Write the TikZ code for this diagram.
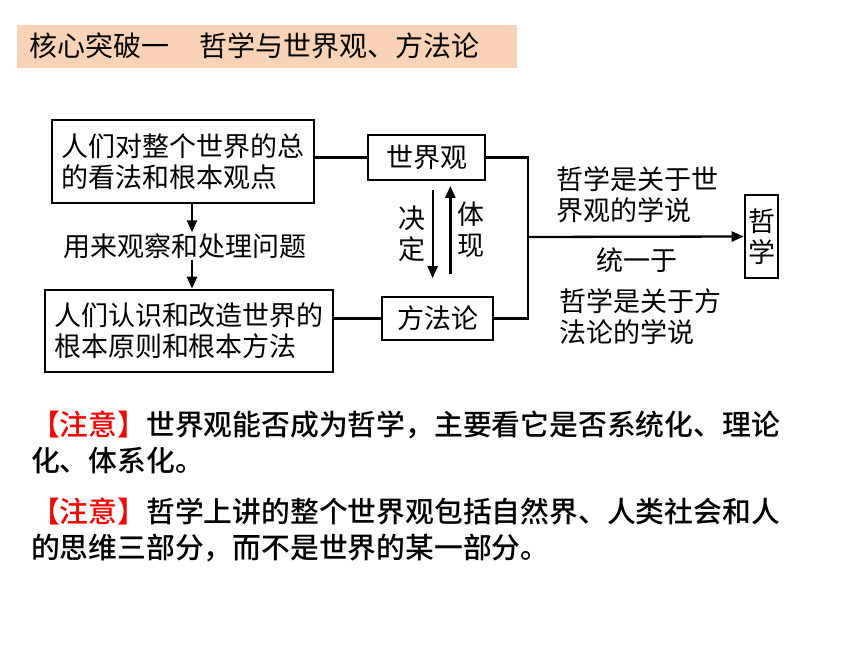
\documentclass[tikz,border=0pt]{standalone}
\usepackage{fontspec}
\setmainfont{Noto Sans CJK SC}
\newfontfamily\notefont{Noto Sans CJK SC Medium}
\usetikzlibrary{arrows.meta,positioning}
\definecolor{peach}{RGB}{250,210,181}
\definecolor{notered}{RGB}{255,0,0}

\begin{document}
\begin{tikzpicture}[x=1pt,y=-1pt,>={Triangle[length=12pt,width=10pt]},
  line width=2.3pt,
  txt/.style={font=\fontsize{27}{31}\selectfont,inner sep=0pt,align=left},
  box/.style={draw,line width=2.6pt,txt,align=left},
  note/.style={font=\fontsize{28.8}{36}\selectfont\notefont,inner sep=0pt,align=left,anchor=west}]

 \useasboundingbox (0,0) rectangle (860,645);

 % title bar
 \fill[peach] (17,25) rectangle (517,68);
 \node[txt,font=\fontsize{28}{32}\selectfont,anchor=west] (title) at (28,46) {核心突破一\hspace{30pt}哲学与世界观、方法论};

 \node[box,minimum width=262,minimum height=83] (view) at (183,161.5) {人们对整个世界的总\\的看法和根本观点};
 \node[txt] (use) at (185,246) {用来观察和处理问题};
 \node[box,minimum width=288,minimum height=82] (rule) at (189,331) {人们认识和改造世界的\\根本原则和根本方法};
 \node[box,minimum width=117,minimum height=45] (wv) at (426.5,157.5) {世界观};
 \node[box,minimum width=111,minimum height=43] (meth) at (437.5,318.5) {方法论};
 \node[txt,minimum height=86] (decide) at (412,234) {决\\定};
 \node[txt,minimum height=86] (show) at (471,230) {体\\现};
 \node[box,align=center,minimum width=33,minimum height=83] (phil) at (761.5,236.5) {哲\\学};
 \coordinate (join) at (528,237);

 \node[txt] (lbl1) at (637,195) {哲学是关于世\\界观的学说};
 \node[txt] (lbl2) at (637,260) {统一于};
 \node[txt] (lbl3) at (640,317) {哲学是关于方\\法论的学说};

 \draw[->] ([xshift=9pt]view.south) -- ([xshift=7pt]use.north);
 \draw[->] ([xshift=7pt]use.south) -- ([xshift=3pt]rule.north);
 \draw (view.east |- wv.west) -- (wv.west);
 \draw (rule.east |- meth.west) -- (meth.west);
 \draw[->] ([xshift=6pt]decide.north east) -- ([xshift=6pt]decide.south east);
 \draw[->] ([xshift=-6pt]show.south west) -- ([xshift=-6pt]show.north west);
 \draw (wv.east) -| (join) |- (meth.east);
 \draw[->] (join) -- (phil.west);

 \node[note] (note1) at (30,442) {\textcolor{notered}{【注意】}世界观能否成为哲学，主要看它是否系统化、理论\\化、体系化。};
 \node[note] (note2) at (30,530) {\textcolor{notered}{【注意】}哲学上讲的整个世界观包括自然界、人类社会和人\\的思维三部分，而不是世界的某一部分。};

\end{tikzpicture}
\end{document}
